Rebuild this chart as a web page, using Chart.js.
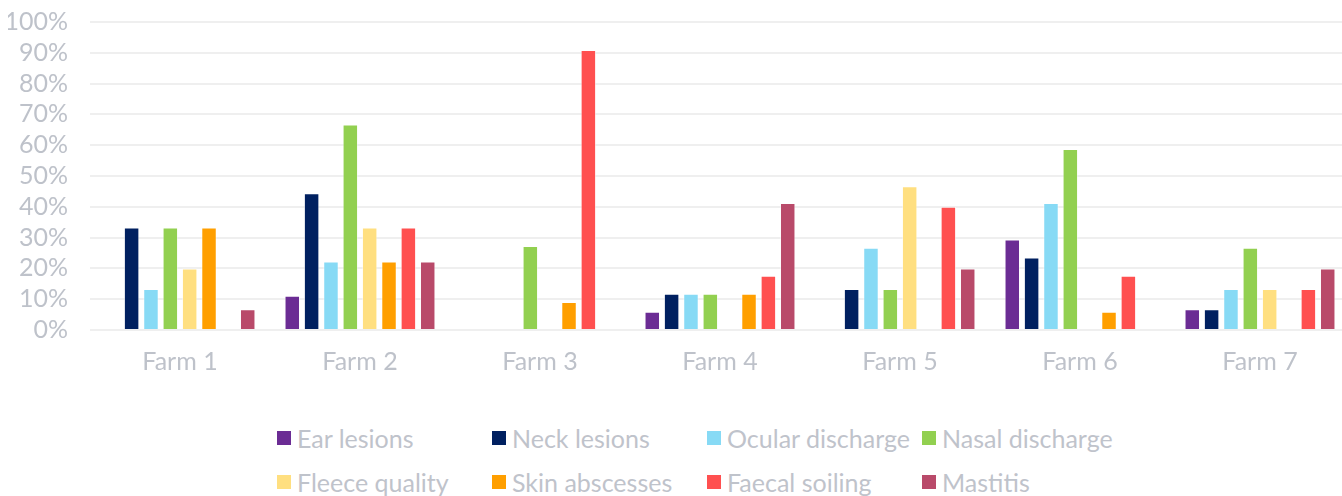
<!DOCTYPE html>
<html>
<head>
<meta charset="utf-8">
<script src="https://cdn.jsdelivr.net/npm/chart.js@4"></script>
<style>
    body { margin: 0; background: #fff; font-family: Lato, sans-serif; overflow: hidden; }
    #wrap { position: relative; width: 1352px; height: 411px; margin-top: -15px; }
    #legend {
        position: absolute; left: 277px; top: 423px;
        display: grid; grid-template-columns: repeat(4, 215px); row-gap: 14px;
    }
    .item { display: flex; align-items: center; font-size: 25px; color: #BFC3CB; line-height: 30px; white-space: nowrap; }
    .box { width: 14px; height: 14px; margin-right: 6px; flex: none; }
</style>
</head>
<body>
<div id="wrap"><canvas id="chart"></canvas></div>
<div id="legend"></div>
<script>
// Farms on the x axis
const farms = ['Farm 1', 'Farm 2', 'Farm 3', 'Farm 4', 'Farm 5', 'Farm 6', 'Farm 7'];

// Percent of animals per farm, one array per condition
const earLesions      = [0, 11.1, 0, 5.9, 0, 29.4, 6.7];
const neckLesions     = [33.3, 44.4, 0, 11.8, 13.3, 23.5, 6.7];
const ocularDischarge = [13.3, 22.2, 0, 11.8, 26.7, 41.2, 13.3];
const nasalDischarge  = [33.3, 66.7, 27.3, 11.8, 13.3, 58.8, 26.7];
const fleeceQuality   = [20, 33.3, 0, 0, 46.7, 0, 13.3];
const skinAbscesses   = [33.3, 22.2, 9.1, 11.8, 0, 5.9, 0];
const faecalSoiling   = [0, 33.3, 90.9, 17.6, 40, 17.6, 13.3];
const mastitis        = [6.7, 22.2, 0, 41.2, 20, 0, 20];

const seriesNames = ['Ear lesions', 'Neck lesions', 'Ocular discharge', 'Nasal discharge',
                     'Fleece quality', 'Skin abscesses', 'Faecal soiling', 'Mastitis'];
const seriesData = [earLesions, neckLesions, ocularDischarge, nasalDischarge,
                    fleeceQuality, skinAbscesses, faecalSoiling, mastitis];
const colors = ['#6B2C94', '#002060', '#87DAF5', '#92D050', '#FFDF80', '#FF9F00', '#FF5050', '#B94A6A'];

const tickColor = '#BEC2CA';

const datasets = seriesNames.map((name, i) => ({
    label: name,
    data: seriesData[i],
    backgroundColor: colors[i],
    borderColor: 'rgba(255,255,255,0.5)',
    borderWidth: 1,
    categoryPercentage: 0.86,
    barPercentage: 0.8
}));

new Chart(document.getElementById('chart'), {
    type: 'bar',
    data: { labels: farms, datasets: datasets },
    options: {
        responsive: true,
        maintainAspectRatio: false,
        animation: false,
        layout: { padding: { top: 8, right: 2, left: 8, bottom: 10 } },
        plugins: {
            legend: { display: false },
            tooltip: { enabled: false }
        },
        scales: {
            x: {
                grid: { display: false },
                border: { display: false },
                ticks: { color: tickColor, font: { family: 'Lato', size: 25 }, padding: 9 }
            },
            y: {
                min: 0,
                max: 100,
                grid: { color: '#EFEFEF', lineWidth: 2, drawTicks: false },
                border: { display: false },
                afterFit: scale => { scale.width = 82; },
                ticks: {
                    stepSize: 10,
                    autoSkip: false,
                    color: tickColor,
                    font: { family: 'Lato', size: 25 },
                    padding: 22,
                    callback: v => v + '%'
                }
            }
        }
    }
});

// Legend laid out as a 4-column grid like the reference
const legend = document.getElementById('legend');
seriesNames.forEach((name, i) => {
    const item = document.createElement('div');
    item.className = 'item';
    item.innerHTML = '<span class="box" style="background:' + colors[i] + '"></span>' + name;
    legend.appendChild(item);
});
</script>
</body>
</html>
